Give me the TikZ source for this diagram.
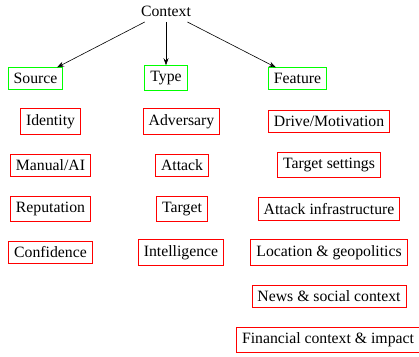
\documentclass[tikz,border=0pt]{standalone}
\usepackage{fontspec}
\setmainfont{Liberation Serif}
\usetikzlibrary{arrows.meta}
\tikzset{
  txt/.style={font=\fontsize{15.75}{19}\selectfont, inner sep=5.5pt},
  grp/.style={txt, draw=green, line width=0.8pt},
  leaf/.style={txt, draw=red, line width=0.8pt},
  arr/.style={-{Stealth[length=7pt,width=5pt]}, line width=0.6pt}
}
\begin{document}
\begin{tikzpicture}[x=1pt,y=-1pt]
\useasboundingbox (0,0) rectangle (419,356);
\node[txt] (ctx) at (166,11) {Context};

\node[grp] (src) at (35.5,78.5) {Source};
\node[grp] (typ) at (166,78) {Type};
\node[grp] (feat) at (297.5,78.5) {Feature};

\draw[arr] (ctx) -- (src);
\draw[arr] (ctx) -- (typ);
\draw[arr] (ctx) -- (feat);

% source column
\node[leaf] (ident) at (50.5,121.5) {Identity};
\node[leaf] (manual) at (50.5,165) {Manual/AI};
\node[leaf] (rep) at (50.5,209) {Reputation};
\node[leaf] (conf) at (50.5,252.5) {Confidence};

% type column
\node[leaf] (adv) at (181.5,121.5) {Adversary};
\node[leaf] (att) at (182,165) {Attack};
\node[leaf] (tgt) at (182,209) {Target};
\node[leaf] (intel) at (181,252.5) {Intelligence};

% feature column
\node[leaf] (drive) at (329,121.5) {Drive/Motivation};
\node[leaf] (tset) at (329,165) {Target settings};
\node[leaf] (infra) at (329,209) {Attack infrastructure};
\node[leaf] (loc) at (329,252.5) {Location \& geopolitics};
\node[leaf] (news) at (329,296.5) {News \& social context};
\node[leaf] (fin) at (328,340) {Financial context \& impact};
\end{tikzpicture}
\end{document}
